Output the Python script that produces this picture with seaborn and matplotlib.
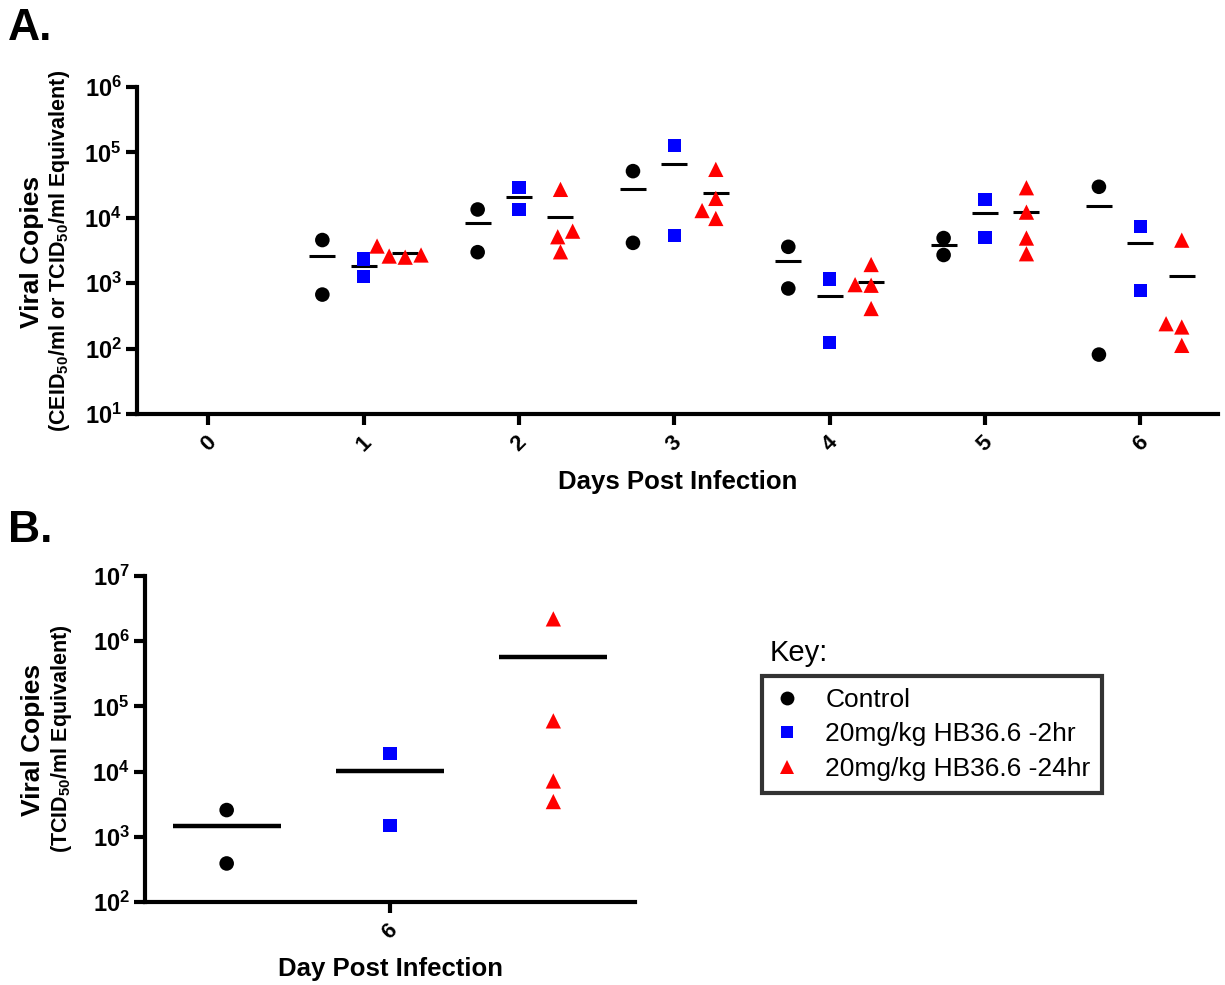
import matplotlib

matplotlib.use("Agg")
import matplotlib.pyplot as plt
import numpy as np
import pandas as pd
import seaborn as sns
from matplotlib.lines import Line2D
from matplotlib.ticker import FixedLocator, FuncFormatter, NullLocator

GROUPS = ["Control", "20mg/kg HB36.6 -2hr", "20mg/kg HB36.6 -24hr"]
COLORS = {"Control": "black", "20mg/kg HB36.6 -2hr": "#0000ff", "20mg/kg HB36.6 -24hr": "#ff0000"}
MARKERS = {"Control": "o", "20mg/kg HB36.6 -2hr": "s", "20mg/kg HB36.6 -24hr": "^"}
SIZES = {"Control": 10.5, "20mg/kg HB36.6 -2hr": 9.5, "20mg/kg HB36.6 -24hr": 11}

# panel A: titers per day (days 1-6, day 0 has no samples)
A_ORDER = ["0", "1", "2", "3", "4", "5", "6"]
A_DAYS = ["1", "2", "3", "4", "5", "6"]
A_CONTROL = [[4570, 670], [13400, 2980], [51700, 4140], [3600, 830], [4900, 2700], [29800, 81]]
A_2HR = [[1265, 2350], [28800, 13400], [129000, 5370], [1160, 125], [19100, 5000], [7440, 773]]
A_24HR = [
    [2600, 2500, 2700, 3700],
    [27200, 6250, 5130, 3020],
    [55000, 19800, 12900, 9770],
    [1930, 950, 930, 410],
    [28800, 12200, 4900, 2820],
    [4550, 240, 214, 112],
]

# panel B: day 6 only
B_ORDER = ["6"]
B_CONTROL = [2570, 390]
B_2HR = [19000, 1510]
B_24HR = [2200000, 60000, 7180, 3470]


def long_table(days, *series):
    rows = []
    for group, per_day in zip(GROUPS, series):
        for day, values in zip(days, per_day):
            for v in values:
                rows.append({"day": day, "group": group, "value": v})
    return pd.DataFrame(rows)


df_a = long_table(A_DAYS, A_CONTROL, A_2HR, A_24HR)
df_b = long_table(B_ORDER, [B_CONTROL], [B_2HR], [B_24HR])


def decade_label(v, pos):
    return rf"$\mathbf{{10^{{{int(round(np.log10(v)))}}}}}$"


def draw_panel(ax, df, order, ylim, line_size, line_width, rot):
    for g in GROUPS:
        sns.swarmplot(
            data=df[df["group"] == g], x="day", y="value", hue="group",
            order=order, hue_order=GROUPS, dodge=True, palette=COLORS,
            marker=MARKERS[g], size=SIZES[g], linewidth=0,
            log_scale=True, legend=False, ax=ax,
        )
    # arithmetic means drawn as short black bars
    means = df.groupby(["day", "group"], as_index=False)["value"].mean()
    sns.pointplot(
        data=means, x="day", y="value", hue="group", order=order,
        hue_order=GROUPS, dodge=0.5333, palette={g: "black" for g in GROUPS},
        markers="_", linestyles="none", errorbar=None,
        markersize=line_size, markeredgewidth=line_width,
        log_scale=True, legend=False, ax=ax,
    )
    ax.set_ylim(*ylim)
    lo, hi = int(np.log10(ylim[0])), int(np.log10(ylim[1]))
    ax.yaxis.set_major_locator(FixedLocator([10.0 ** k for k in range(lo, hi + 1)]))
    ax.yaxis.set_minor_locator(NullLocator())
    ax.yaxis.set_major_formatter(FuncFormatter(decade_label))
    sns.despine(ax=ax)
    for side in ["left", "bottom"]:
        ax.spines[side].set_linewidth(3)
        ax.spines[side].set_color("black")
    ax.tick_params(axis="both", length=8, width=3, color="black", labelcolor="black")
    ax.tick_params(axis="y", labelsize=17, pad=3)
    ax.tick_params(axis="x", labelsize=16, pad=5)
    for lab in ax.get_xticklabels():
        lab.set_rotation(rot)
        lab.set_fontweight("bold")
        lab.set_ha("center")
        lab.set_va("top")
    ax.set_ylabel("")
    ax.grid(False)


sns.set_theme(style="ticks")
plt.rcParams["font.family"] = ["Liberation Sans", "DejaVu Sans"]
plt.rcParams["text.color"] = "black"
plt.rcParams["axes.labelcolor"] = "black"
plt.rcParams["axes.edgecolor"] = "black"
plt.rcParams["xtick.color"] = "black"
plt.rcParams["ytick.color"] = "black"
plt.rcParams["mathtext.fontset"] = "custom"
plt.rcParams["mathtext.rm"] = "Liberation Sans"
plt.rcParams["mathtext.it"] = "Liberation Sans:italic"
plt.rcParams["mathtext.bf"] = "Liberation Sans:bold"

W, H = 1225, 985
fig = plt.figure(figsize=(W / 100, H / 100), dpi=100)

ax_a = fig.add_axes([137 / W, 1 - 414 / H, (1218 - 137) / W, (414 - 87) / H])
draw_panel(ax_a, df_a, A_ORDER, (10, 1e6), 19, 2.2, 45)
ax_a.set_xlim(-0.46, 6.5)
ax_a.set_xlabel("Days Post Infection", fontsize=18.5, fontweight="bold")
ax_a.xaxis.set_label_coords(0.5, -0.17)

ax_b = fig.add_axes([145 / W, 1 - 902 / H, (635 - 145) / W, (902 - 576) / H])
draw_panel(ax_b, df_b, B_ORDER, (100, 1e7), 78, 3.2, 45)
ax_b.set_xlim(-0.4, 0.4)
ax_b.set_xlabel("Day Post Infection", fontsize=18.5, fontweight="bold")
ax_b.xaxis.set_label_coords(0.5, -0.17)

# two-line y labels
fig.text(32 / W, 1 - 252 / H, "Viral Copies", rotation=90, ha="center", va="center",
         fontsize=19, fontweight="bold")
fig.text(60 / W, 1 - 251 / H,
         r"(CEID$_{\mathbf{50}}$/ml or TCID$_{\mathbf{50}}$/ml Equivalent)",
         rotation=90, ha="center", va="center", fontsize=15.5, fontweight="bold")
fig.text(33 / W, 1 - 740 / H, "Viral Copies", rotation=90, ha="center", va="center",
         fontsize=19, fontweight="bold")
fig.text(62 / W, 1 - 739 / H, r"(TCID$_{\mathbf{50}}$/ml Equivalent)",
         rotation=90, ha="center", va="center", fontsize=15.5, fontweight="bold")

fig.text(8 / W, 1 - 29 / H, "A.", fontsize=32, fontweight="bold", va="center")
fig.text(8 / W, 1 - 531 / H, "B.", fontsize=32, fontweight="bold", va="center")

handles = [
    Line2D([], [], linestyle="none", marker=MARKERS[g], color=COLORS[g],
           markersize=SIZES[g] * 0.95, markeredgewidth=0)
    for g in GROUPS
]
leg = fig.legend(
    handles, GROUPS, loc="upper left", bbox_to_anchor=(762 / W, 1 - 676 / H),
    fontsize=19, frameon=True, fancybox=False, edgecolor="black",
    borderpad=0.45, handlelength=1.0, handletextpad=0.95, labelspacing=0.4,
    borderaxespad=0,
)
leg.get_frame().set_linewidth(3)
fig.text(770 / W, 1 - 653 / H, "Key:", fontsize=21, va="center")

fig.savefig("out.png", dpi=100)
